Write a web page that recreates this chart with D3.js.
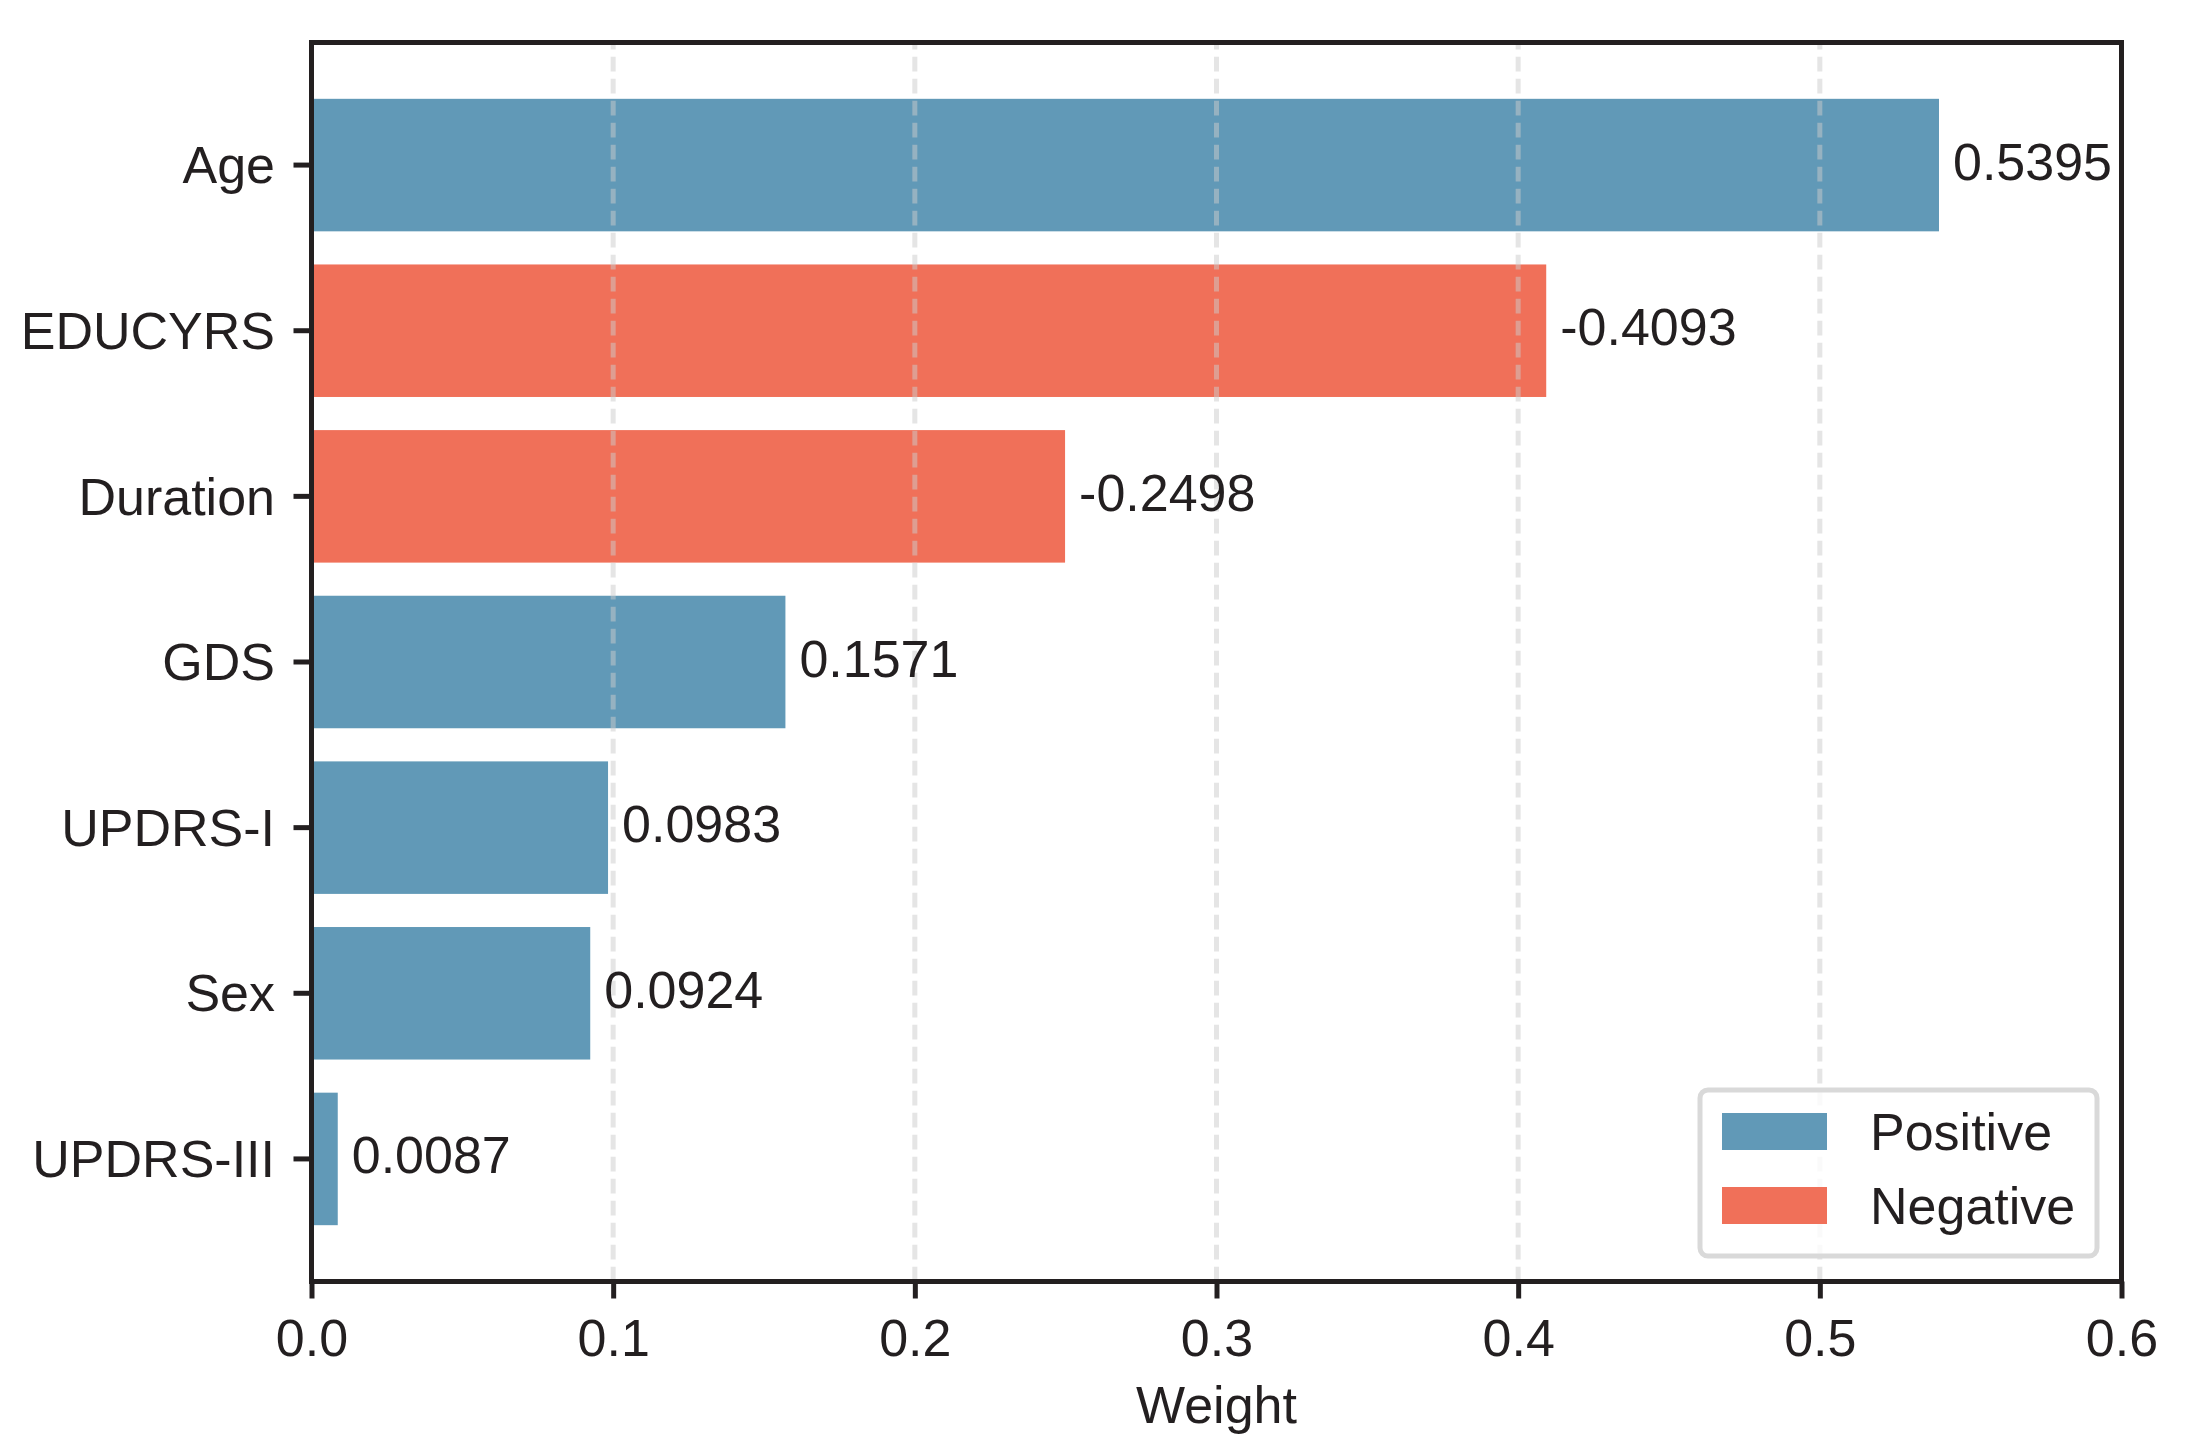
<!DOCTYPE html>
<html>
<head>
<meta charset="utf-8">
<script src="https://cdn.jsdelivr.net/npm/d3@7"></script>
<style>
  body { margin: 0; background: #fff; }
  text { font-family: "Liberation Sans", Arial, sans-serif; fill: #231f20; }
</style>
</head>
<body>
<div id="chart"></div>
<script>
// values (sign = direction, bar length = magnitude)
var features = ["Age", "EDUCYRS", "Duration", "GDS", "UPDRS-I", "Sex", "UPDRS-III"];
var weights = [0.5395, -0.4093, -0.2498, 0.1571, 0.0983, 0.0924, 0.0087];
var xTicks = [0, 0.1, 0.2, 0.3, 0.4, 0.5, 0.6];
var legendLabels = ["Positive", "Negative"];

var posColor = "#6199b7",
    negColor = "#f07059",
    ink = "#231f20";

var W = 2187, H = 1449;
var margin = {top: 42.5, right: 65.5, bottom: 167.5, left: 311.5},
    width = W - margin.left - margin.right,
    height = H - margin.top - margin.bottom;

var svg = d3.select("#chart")
    .append("svg")
    .attr("width", W)
    .attr("height", H)
    .append("g")
    .attr("transform", "translate(" + margin.left + "," + margin.top + ")");

var data = features.map(function (f, i) {
    return {name: f, w: weights[i]};
});

var x = d3.scaleLinear().domain([0, 0.6]).range([0, width]);
var y = d3.scaleBand().domain(features).range([0, height])
    .paddingInner(0.2).paddingOuter(0.34);

// bars
svg.selectAll(".bar")
    .data(data)
    .enter()
    .append("rect")
    .attr("class", "bar")
    .attr("x", x(0))
    .attr("y", function (d) { return y(d.name); })
    .attr("width", function (d) { return x(Math.abs(d.w)) - x(0); })
    .attr("height", y.bandwidth())
    .attr("fill", function (d) { return d.w >= 0 ? posColor : negColor; });

// dashed grid (drawn over the bars, semi transparent)
svg.selectAll(".grid")
    .data(xTicks.slice(1, -1))
    .enter()
    .append("line")
    .attr("class", "grid")
    .attr("x1", function (d) { return x(d); })
    .attr("x2", function (d) { return x(d); })
    .attr("y1", height)
    .attr("y2", 0)
    .attr("stroke", "#cccccc")
    .attr("stroke-opacity", 0.5)
    .attr("stroke-width", 5)
    .attr("stroke-dasharray", "14.7,7.3");

// value labels
svg.selectAll(".val")
    .data(data)
    .enter()
    .append("text")
    .attr("class", "val")
    .attr("x", function (d) { return x(Math.abs(d.w)) + 14; })
    .attr("y", function (d) { return y(d.name) + y.bandwidth() / 2 + 14.5; })
    .style("font-size", "52px")
    .text(function (d) { return d.w.toFixed(4); });

// x axis
var xAxis = svg.append("g")
    .attr("transform", "translate(0," + height + ")")
    .call(d3.axisBottom(x).tickValues(xTicks).tickSize(17).tickFormat(d3.format(".1f")));
xAxis.select(".domain").remove();
xAxis.selectAll("line").attr("stroke", ink).attr("stroke-width", 5);
xAxis.selectAll("text")
    .attr("y", 74)
    .attr("dy", null)
    .style("font-size", "52px")
    .attr("fill", ink);

// y axis
var yAxis = svg.append("g")
    .call(d3.axisLeft(y).tickSize(18));
yAxis.select(".domain").remove();
yAxis.selectAll("line").attr("stroke", ink).attr("stroke-width", 5);
yAxis.selectAll("text")
    .attr("x", -36.5)
    .attr("dy", "0.35em")
    .style("font-size", "52px")
    .attr("fill", ink);

// frame
svg.append("rect")
    .attr("x", 0)
    .attr("y", 0)
    .attr("width", width)
    .attr("height", height)
    .attr("fill", "none")
    .attr("stroke", ink)
    .attr("stroke-width", 5);

// x label
svg.append("text")
    .attr("x", width / 2)
    .attr("y", 1423 - margin.top)
    .attr("text-anchor", "middle")
    .style("font-size", "52px")
    .text("Weight");

// legend
var legend = svg.append("g")
    .attr("transform", "translate(" + (1700 - margin.left) + "," + (1090 - margin.top) + ")");

legend.append("rect")
    .attr("width", 397)
    .attr("height", 166)
    .attr("rx", 8)
    .attr("fill", "#fff")
    .attr("fill-opacity", 0.8)
    .attr("stroke", "#d9d9d9")
    .attr("stroke-width", 5);

legendLabels.forEach(function (lab, i) {
    legend.append("rect")
        .attr("x", 22)
        .attr("y", 23 + i * 74)
        .attr("width", 105)
        .attr("height", 37)
        .attr("fill", i == 0 ? posColor : negColor);
    legend.append("text")
        .attr("x", 170)
        .attr("y", 60 + i * 74)
        .style("font-size", "52px")
        .text(lab);
});
</script>
</body>
</html>
